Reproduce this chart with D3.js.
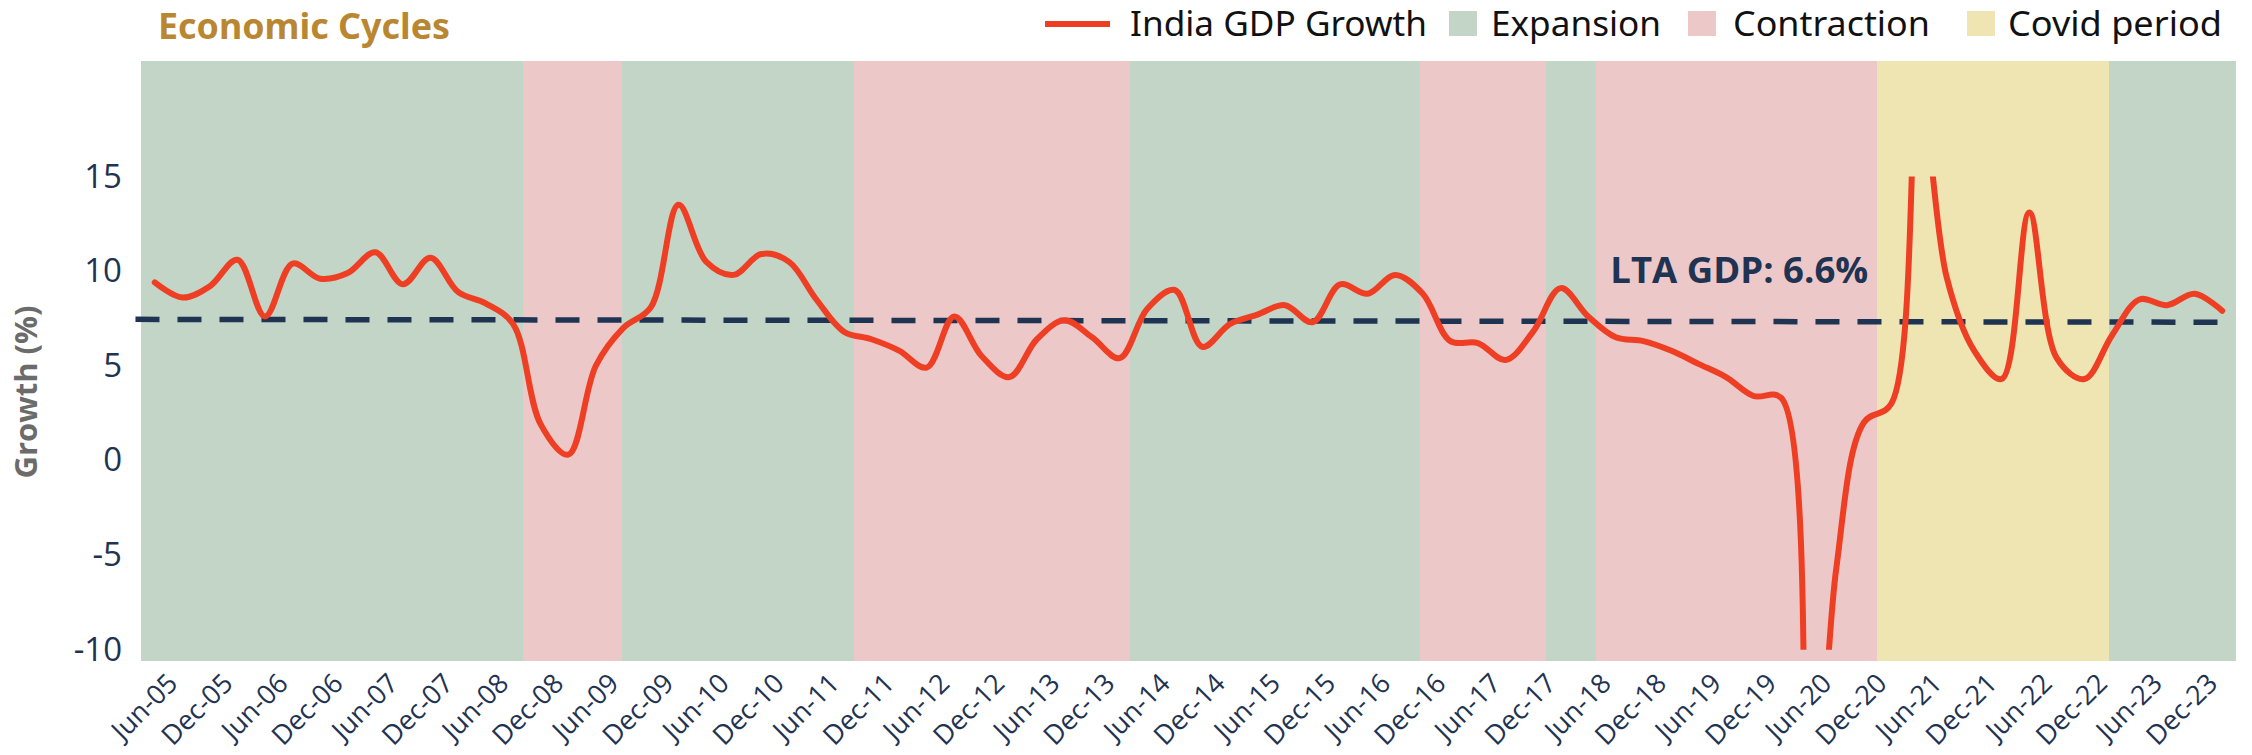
<!DOCTYPE html>
<html>
<head>
<meta charset="utf-8">
<script src="https://cdn.jsdelivr.net/npm/d3@7"></script>
<style>
  body { margin: 0; background: #fff; }
  svg { display: block; font-family: "Open Sans", "Noto Sans", sans-serif; }
</style>
</head>
<body>
<svg id="chart" width="2252" height="755"></svg>
<script>
// quarterly India GDP growth, Jun-05 .. Mar-24
var quarters = [
  "Jun-05","Sep-05","Dec-05","Mar-06","Jun-06","Sep-06","Dec-06","Mar-07",
  "Jun-07","Sep-07","Dec-07","Mar-08","Jun-08","Sep-08","Dec-08","Mar-09",
  "Jun-09","Sep-09","Dec-09","Mar-10","Jun-10","Sep-10","Dec-10","Mar-11",
  "Jun-11","Sep-11","Dec-11","Mar-12","Jun-12","Sep-12","Dec-12","Mar-13",
  "Jun-13","Sep-13","Dec-13","Mar-14","Jun-14","Sep-14","Dec-14","Mar-15",
  "Jun-15","Sep-15","Dec-15","Mar-16","Jun-16","Sep-16","Dec-16","Mar-17",
  "Jun-17","Sep-17","Dec-17","Mar-18","Jun-18","Sep-18","Dec-18","Mar-19",
  "Jun-19","Sep-19","Dec-19","Mar-20","Jun-20","Sep-20","Dec-20","Mar-21",
  "Jun-21","Sep-21","Dec-21","Mar-22","Jun-22","Sep-22","Dec-22","Mar-23",
  "Jun-23","Sep-23","Dec-23","Mar-24"
];
var gdpGrowth = [
  9.4, 8.6, 9.2, 10.6, 7.6, 10.4, 9.6, 9.9,
  11.0, 9.3, 10.7, 8.9, 8.3, 7.2, 1.9, 0.3,
  5.0, 7.0, 8.1, 13.5, 10.5, 9.8, 10.9, 10.5,
  8.5, 6.8, 6.4, 5.8, 4.9, 7.6, 5.5, 4.4,
  6.4, 7.4, 6.5, 5.4, 8.0, 9.0, 6.0, 7.2,
  7.7, 8.2, 7.3, 9.3, 8.8, 9.8, 8.8, 6.3,
  6.2, 5.3, 6.8, 9.1, 7.6, 6.5, 6.3, 5.8,
  5.1, 4.4, 3.4, 3.3, -23.9, -5.7, 2.0, 3.0,
  20.1, 9.7, 5.8, 4.3, 13.1, 5.4, 4.3, 6.6,
  8.5, 8.2, 8.8, 7.9
];

// shaded phases, in quarter-index units
var bandTypes = ["Expansion","Contraction","Expansion","Contraction","Expansion",
                 "Contraction","Expansion","Contraction","Covid period","Expansion"];
var bandFrom = [-0.5, 13.36, 16.95, 25.36, 35.37, 45.9, 50.46, 52.3, 62.47, 70.9];
var bandTo   = [13.36, 16.95, 25.36, 35.37, 45.9, 50.46, 52.3, 62.47, 70.9, 75.5];

var yTicks = [-10, -5, 0, 5, 10, 15];
var ltaLevel = [7.45, 7.3];       // dashed reference line (start, end)
var ltaSpan = [-0.7, 74.85];
var ltaText = "LTA GDP: 6.6%";
var ltaLabelAt = [52.8, 9.38];

var colors = {
  "India GDP Growth": "#ee3f24",
  "Expansion": "#c2d5c6",
  "Contraction": "#ecc8c9",
  "Covid period": "#efe5b2"
};
var navy = "#1f3352";

var svg = d3.select("#chart");

var x = d3.scaleLinear().domain([-0.5, quarters.length - 0.5]).range([141, 2236]);
var y = d3.scaleLinear().domain([-10.6, 21.1]).range([661, 61]);

// background phases
svg.append("g").selectAll("rect")
  .data(bandTypes)
  .enter().append("rect")
  .attr("x", function(d, i) { return x(bandFrom[i]); })
  .attr("width", function(d, i) { return x(bandTo[i]) - x(bandFrom[i]); })
  .attr("y", y.range()[1])
  .attr("height", y.range()[0] - y.range()[1])
  .attr("fill", function(d) { return colors[d]; })
  .attr("shape-rendering", "crispEdges");

// LTA dashed line
svg.append("line")
  .attr("x1", x(ltaSpan[0])).attr("x2", x(ltaSpan[1]))
  .attr("y1", y(ltaLevel[0])).attr("y2", y(ltaLevel[1]))
  .attr("stroke", navy)
  .attr("stroke-width", 5.5)
  .attr("stroke-dasharray", "24 18");

svg.append("text")
  .attr("x", x(ltaLabelAt[0]))
  .attr("y", y(ltaLabelAt[1]))
  .attr("fill", navy)
  .attr("font-size", 36)
  .attr("font-weight", 700)
  .attr("textLength", 258)
  .attr("lengthAdjust", "spacingAndGlyphs")
  .text(ltaText);

// line, clipped to the -10..15 window like the original
svg.append("clipPath").attr("id", "clip")
  .append("rect")
  .attr("x", 0).attr("width", 2252)
  .attr("y", y(15)).attr("height", y(-10) - y(15));

var line = d3.line()
  .x(function(d, i) { return x(i); })
  .y(function(d) { return y(d); })
  .curve(d3.curveCatmullRom.alpha(0.5));

svg.append("path")
  .datum(gdpGrowth)
  .attr("clip-path", "url(#clip)")
  .attr("fill", "none")
  .attr("stroke", colors["India GDP Growth"])
  .attr("stroke-width", 6)
  .attr("stroke-linejoin", "round")
  .attr("stroke-linecap", "round")
  .attr("d", line);

// y axis (plain hyphen, as in the original)
var yAxis = svg.append("g")
  .attr("transform", "translate(" + x.range()[0] + ",0)")
  .call(d3.axisLeft(y).tickValues(yTicks).tickSize(0).tickPadding(19)
    .tickFormat(function(d) { return String(d); }));
yAxis.select(".domain").remove();
yAxis.selectAll("text")
  .attr("fill", navy)
  .attr("font-size", 33)
  .attr("font-family", "'Open Sans', sans-serif");

svg.append("text")
  .attr("transform", "translate(37," + 392 + ") rotate(-90)")
  .attr("text-anchor", "middle")
  .attr("fill", "#6b6b6b")
  .attr("font-size", 31)
  .attr("font-weight", 700)
  .text("Growth (%)");

// x axis: every other quarter, rotated
var xAxis = svg.append("g")
  .attr("transform", "translate(0,661)")
  .call(d3.axisBottom(x)
    .tickValues(d3.range(0, quarters.length, 2))
    .tickFormat(function(i) { return quarters[i]; })
    .tickSize(0));
xAxis.select(".domain").remove();
xAxis.selectAll("text")
  .attr("fill", navy)
  .attr("font-size", 27)
  .attr("font-family", "'Open Sans', sans-serif")
  .attr("text-anchor", "end")
  .attr("dy", null)
  .attr("y", null)
  .attr("transform", "translate(24,24) rotate(-45)");

// title
svg.append("text")
  .attr("x", 158).attr("y", 39)
  .attr("fill", "#b98732")
  .attr("font-size", 35)
  .attr("font-weight", 700)
  .attr("font-family", "'Noto Sans', sans-serif")
  .attr("textLength", 292)
  .attr("lengthAdjust", "spacingAndGlyphs")
  .text("Economic Cycles");

// legend
var legendItems = [
  {name: "India GDP Growth", kind: "line", sx: 1045, tx: 1130, tw: 297},
  {name: "Expansion", kind: "box", sx: 1449, tx: 1491, tw: 170},
  {name: "Contraction", kind: "box", sx: 1688, tx: 1733, tw: 197},
  {name: "Covid period", kind: "box", sx: 1967, tx: 2008, tw: 214}
];
var legend = svg.append("g");
legendItems.forEach(function(it) {
  if (it.kind === "line") {
    legend.append("line")
      .attr("x1", it.sx).attr("x2", it.sx + 65)
      .attr("y1", 24).attr("y2", 24)
      .attr("stroke", colors[it.name]).attr("stroke-width", 6);
  } else {
    legend.append("rect")
      .attr("x", it.sx).attr("y", 11)
      .attr("width", 28).attr("height", 25)
      .attr("fill", colors[it.name]);
  }
  legend.append("text")
    .attr("x", it.tx).attr("y", 36)
    .attr("fill", "#111")
    .attr("font-size", 34)
    .attr("font-family", "'Noto Sans', sans-serif")
    .attr("textLength", it.tw)
    .attr("lengthAdjust", "spacingAndGlyphs")
    .text(it.name);
});
</script>
</body>
</html>
